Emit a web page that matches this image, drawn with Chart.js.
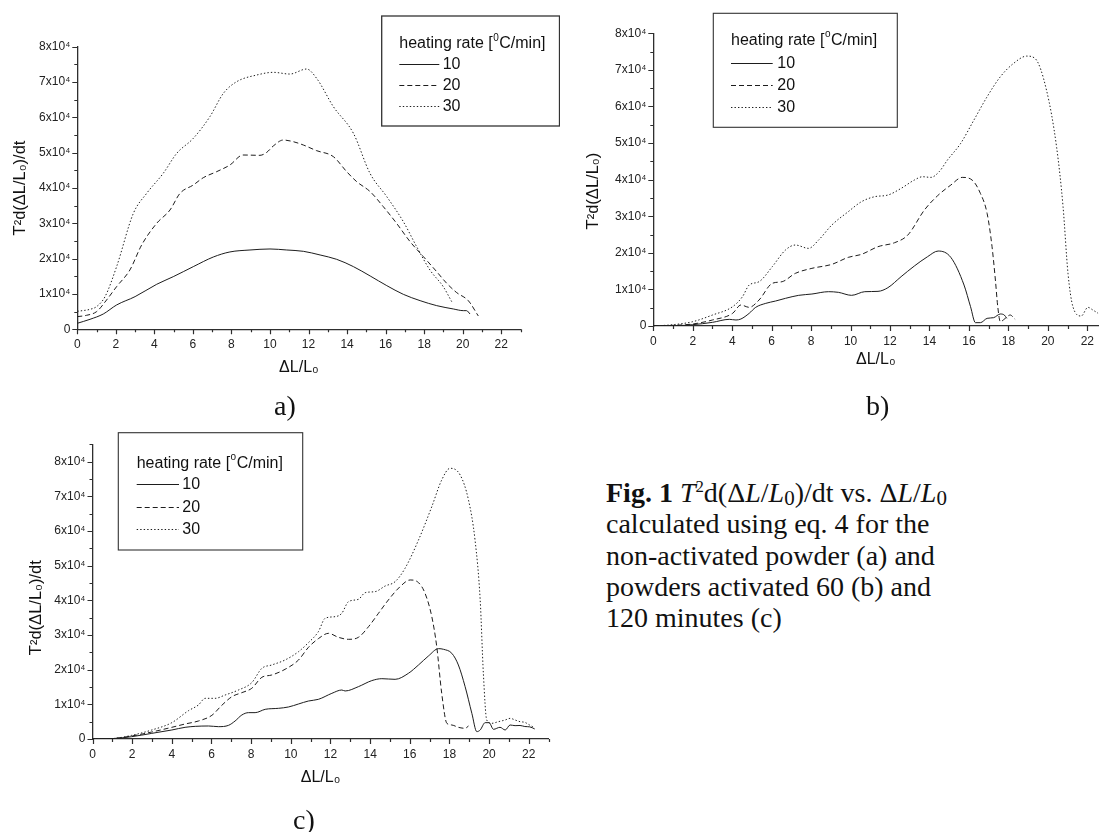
<!DOCTYPE html>
<html>
<head>
<meta charset="utf-8">
<script src="https://cdn.jsdelivr.net/npm/chart.js@4.4.1/dist/chart.umd.min.js"></script>
<style>
  html, body { margin: 0; padding: 0; background: #fff; width: 1102px; height: 832px; overflow: hidden; }
  canvas { position: absolute; }
  .serif { position: absolute; font-family: 'Liberation Serif', 'Times New Roman', serif; color: #111; font-size: 28px; line-height: 31.3px; white-space: nowrap; }
  .serif sup { font-size: 0.6em; vertical-align: 0.6em; line-height: 0; }
  .serif sub { font-size: 0.75em; vertical-align: -0.15em; line-height: 0; }
</style>
</head>
<body>
<canvas id="chartA" width="560" height="400" style="left:0;top:0"></canvas>
<canvas id="chartB" width="542" height="400" style="left:560px;top:0"></canvas>
<canvas id="chartC" width="560" height="432" style="left:0;top:400px"></canvas>

<div class="serif" style="left:274px;top:390px">a)</div>
<div class="serif" style="left:866px;top:390px">b)</div>
<div class="serif" style="left:293px;top:804px">c)</div>

<div class="serif" style="left:606px;top:477px">
  <b>Fig. 1</b> <i>T</i><sup>2</sup>d(&Delta;<i>L</i>/<i>L</i><sub>0</sub>)/dt vs. &Delta;<i>L</i>/<i>L</i><sub>0</sub><br>
  calculated using eq. 4 for the<br>
  non-activated powder (a) and<br>
  powders activated 60 (b) and<br>
  120 minutes (c)
</div>

<script>
// ---- axis ticks and legend entries ----
const xTickValues = [0, 2, 4, 6, 8, 10, 12, 14, 16, 18, 20, 22];
const yTickValues = [0, 10000, 20000, 30000, 40000, 50000, 60000, 70000, 80000];
const yTickLabels = ['0', '1x10\u2074', '2x10\u2074', '3x10\u2074', '4x10\u2074', '5x10\u2074', '6x10\u2074', '7x10\u2074', '8x10\u2074'];
const heatingRates = ['10', '20', '30'];

// ---- (a) non-activated powder ----
const aX10 = [0, 0.66, 1.35, 2.04, 3.0, 4.12, 4.98, 6.02, 7.06, 7.92, 8.96, 10.0, 10.87, 11.73, 12.6, 13.46, 14.33, 15.2, 16.06, 16.92, 17.79, 18.65, 19.52, 20.03, 20.2, 20.38];
const aY10 = [1700, 2830, 4340, 6890, 9250, 12740, 14900, 17740, 20470, 21900, 22450, 22740, 22450, 22080, 21040, 19810, 17740, 15090, 12360, 9900, 8110, 6700, 5750, 5280, 5280, 4340];
const aX20 = [0, 0.48, 1.0, 1.52, 2.04, 2.73, 3.34, 4.12, 4.81, 5.33, 6.02, 6.54, 7.23, 7.92, 8.6, 9.48, 9.83, 10.17, 10.69, 11.21, 11.73, 12.42, 13.29, 13.98, 14.5, 15.2, 15.88, 16.57, 17.27, 17.96, 18.65, 19.17, 19.69, 20.29, 20.81];
const aY20 = [3580, 3960, 5000, 8300, 12080, 16800, 23870, 30000, 33770, 38490, 40850, 42920, 44620, 46510, 49340, 49250, 50090, 51890, 53580, 53110, 52170, 50570, 48870, 44620, 41790, 38960, 34720, 30000, 24810, 20570, 16320, 13020, 10380, 8110, 3770];
const aX30 = [0, 0.66, 1.0, 1.44, 2.04, 2.91, 3.6, 4.46, 5.16, 6.02, 6.88, 7.58, 8.27, 9.31, 10.17, 11.03, 11.9, 12.42, 13.29, 14.33, 15.19, 16.06, 16.92, 17.61, 18.3, 18.99, 19.43];
const aY30 = [5090, 5660, 6420, 9250, 17740, 32830, 38490, 44150, 49810, 54060, 60190, 66790, 70090, 71980, 72740, 72260, 73680, 71040, 63020, 55470, 44150, 37550, 30470, 23400, 16790, 12080, 7830];

// ---- (b) activated 60 minutes ----
const bX10 = [0, 0.84, 2.0, 3.0, 3.85, 4.19, 4.44, 4.86, 5.19, 5.7, 6.2, 6.7, 7.37, 8.04, 8.88, 9.38, 10.05, 10.72, 11.39, 11.89, 12.56, 13.23, 13.9, 14.44, 15.08, 15.75, 16.08, 16.33, 16.58, 16.92, 17.25, 17.59, 17.79, 17.92];
const bY10 = [0, 0, 360, 1000, 1820, 1640, 1910, 3460, 5100, 6190, 6830, 7560, 8380, 8740, 9380, 9200, 8380, 9380, 9470, 10470, 13480, 16390, 18940, 20490, 18760, 11200, 5280, 910, 910, 2090, 2280, 3280, 3000, 2090];
const bX20 = [0, 1.0, 2.0, 3.0, 4.02, 4.44, 4.86, 5.36, 6.03, 6.53, 7.2, 8.04, 9.05, 9.88, 10.55, 11.39, 12.23, 12.9, 13.74, 14.41, 15.08, 15.66, 16.16, 16.58, 16.92, 17.17, 17.34, 17.46, 17.59, 17.84, 18.09, 18.34];
const bY20 = [0, 180, 550, 1640, 3460, 5740, 5100, 7100, 11660, 12110, 14390, 15760, 16850, 18760, 19580, 21680, 22770, 24860, 31690, 35610, 38520, 40620, 39890, 36250, 30780, 21680, 12570, 5280, 1180, 2090, 3000, 1820];
const bX30 = [0, 1.0, 2.0, 3.0, 4.02, 4.52, 4.86, 5.36, 6.03, 6.7, 7.2, 7.87, 8.38, 9.05, 9.88, 10.55, 11.22, 11.89, 12.56, 13.23, 13.65, 14.07, 14.49, 14.91, 15.58, 16.25, 16.92, 17.59, 18.26, 18.93, 19.35, 19.93, 20.44, 20.77, 21.02, 21.27, 21.69, 22.03, 22.28, 22.55];
const bY30 = [0, 360, 1180, 3000, 5280, 8010, 11200, 12110, 16210, 20770, 22130, 21220, 23500, 27600, 31240, 33970, 35340, 35790, 37610, 39890, 40800, 40620, 42170, 45360, 49910, 56280, 62660, 68120, 71770, 73770, 73130, 64480, 49000, 32600, 14390, 5280, 2730, 5100, 4370, 3460];

// ---- (c) activated 120 minutes ----
const cX10 = [0, 0.97, 1.98, 2.99, 4.0, 4.67, 5.18, 5.85, 6.35, 6.86, 7.19, 7.53, 7.87, 8.2, 8.71, 9.38, 9.88, 10.39, 10.89, 11.39, 12.07, 12.57, 12.74, 13.41, 14.08, 14.59, 15.26, 15.93, 16.44, 16.94, 17.45, 17.7, 18.12, 18.45, 18.79, 19.13, 19.38, 19.55, 19.8, 20.0, 20.22, 20.55, 20.81, 21.06, 21.31, 21.56, 21.8, 22.05, 22.3];
const cY10 = [0, 100, 670, 1630, 2600, 3370, 3650, 3750, 3560, 3940, 5190, 6920, 7600, 7600, 8560, 8850, 9230, 10100, 10960, 11440, 13170, 14130, 13850, 15100, 16830, 17400, 17210, 18940, 21350, 23940, 26060, 25870, 24710, 21350, 15100, 7400, 2120, 2600, 4710, 4710, 2790, 3370, 2600, 4040, 3850, 3900, 3600, 3500, 2900];
const cX20 = [0, 0.97, 1.98, 2.99, 4.0, 4.67, 5.34, 6.02, 6.52, 7.03, 7.53, 8.03, 8.54, 9.04, 9.71, 10.39, 10.89, 11.39, 11.9, 12.4, 12.91, 13.41, 13.92, 14.42, 14.92, 15.51, 16.02, 16.44, 16.77, 17.11, 17.36, 17.61, 17.87, 18.12, 18.45, 18.79, 18.96];
const cY20 = [0, 100, 870, 2020, 3370, 4330, 5190, 6830, 9710, 12210, 13370, 14620, 17790, 18460, 20100, 22790, 26440, 28940, 30480, 29330, 28750, 29330, 32400, 36250, 40100, 43940, 45870, 45100, 42020, 35290, 26630, 13170, 4520, 4040, 3370, 3080, 3750];
const cX30 = [0, 0.97, 1.98, 2.99, 4.0, 4.84, 5.34, 5.68, 6.18, 6.69, 7.36, 8.03, 8.54, 9.04, 9.71, 10.39, 10.89, 11.39, 11.73, 12.24, 12.57, 12.91, 13.41, 13.75, 14.25, 14.76, 15.26, 15.76, 16.44, 17.11, 17.61, 18.03, 18.54, 18.96, 19.29, 19.55, 19.71, 19.88, 20.13, 20.47, 20.81, 21.06, 21.31, 21.56, 21.8, 22.05, 22.3];
const cY30 = [0, 100, 1060, 2600, 4710, 8170, 9810, 11730, 11730, 12690, 14130, 16250, 20380, 21350, 22790, 25190, 27790, 30960, 34810, 35290, 36250, 39620, 40290, 42210, 42500, 44130, 45380, 49230, 57400, 67020, 74710, 78080, 76150, 68940, 57400, 40100, 18940, 5480, 4520, 5000, 5480, 5960, 5480, 5000, 4800, 4000, 3200];

// ---- drawing ----
const INK = '#1d1d1d';
const AXIS = '#2e2e2e';
const SANS = "'Liberation Sans', Arial, sans-serif";
const dashes = [[], [5, 3], [1.4, 2.1]];

// major/minor tick marks drawn from each scale's own pixel mapping
const tickMarks = {
  id: 'tickMarks',
  afterDraw(chart) {
    const { ctx, chartArea } = chart;
    const xs = chart.scales.x, ys = chart.scales.y;
    ctx.save();
    ctx.strokeStyle = AXIS;
    ctx.lineWidth = 1.2;
    ctx.beginPath();
    for (let v = 0; v <= xs.max + 1e-6; v += 1) {
      const px = Math.round(xs.getPixelForValue(v)) + 0.5;
      const len = (v % 2 === 0) ? 5 : 3;
      ctx.moveTo(px, chartArea.bottom);
      ctx.lineTo(px, chartArea.bottom + len);
    }
    for (let v = 0; v <= ys.max + 1e-6; v += 5000) {
      const py = Math.round(ys.getPixelForValue(v)) + 0.5;
      const len = (v % 10000 === 0) ? 5 : 3;
      ctx.moveTo(chartArea.left, py);
      ctx.lineTo(chartArea.left - len, py);
    }
    ctx.stroke();
    ctx.restore();
  }
};

// framed legend with the heating-rate heading
const boxLegend = {
  id: 'boxLegend',
  afterDraw(chart, args, o) {
    const ctx = chart.ctx;
    ctx.save();
    ctx.strokeStyle = '#333';
    ctx.lineWidth = o.frameWidth;
    ctx.strokeRect(o.box[0], o.box[1], o.box[2] - o.box[0], o.box[3] - o.box[1]);
    ctx.fillStyle = '#111';
    ctx.textBaseline = 'middle';
    ctx.textAlign = 'left';
    // heading: heating rate [°C/min] with a raised small degree mark
    ctx.font = '16px ' + SANS;
    let x = o.head[0];
    const part1 = 'heating rate [';
    ctx.fillText(part1, x, o.head[1]);
    x += ctx.measureText(part1).width + 0.5;
    ctx.font = '10px ' + SANS;
    ctx.fillText(o.degree, x, o.head[1] - 6);
    x += ctx.measureText(o.degree).width + 0.5;
    ctx.font = '16px ' + SANS;
    ctx.fillText('C/min]', x, o.head[1]);
    // one row per dataset: line sample with the dataset's dash, then its label
    chart.data.datasets.forEach((ds, i) => {
      const y = Math.round(o.rows[i]) + 0.5;
      ctx.strokeStyle = INK;
      ctx.lineWidth = 1;
      ctx.setLineDash(ds.borderDash || []);
      ctx.beginPath();
      ctx.moveTo(o.sample[0], y);
      ctx.lineTo(o.sample[1], y);
      ctx.stroke();
      ctx.setLineDash([]);
      ctx.font = '16px ' + SANS;
      ctx.fillText(ds.label, o.labelX, o.rows[i] + 0.5);
    });
    ctx.restore();
  }
};

function buildChart(canvasId, p) {
  const datasets = p.series.map((s, i) => ({
    label: heatingRates[i],
    data: s[0].map((x, j) => ({ x: x, y: s[1][j] })),
    borderColor: INK,
    borderWidth: 1,
    borderDash: dashes[i],
    pointRadius: 0,
    fill: false,
    cubicInterpolationMode: 'monotone'
  }));
  return new Chart(document.getElementById(canvasId), {
    type: 'line',
    data: { datasets: datasets },
    options: {
      responsive: false,
      animation: false,
      devicePixelRatio: 1,
      layout: { padding: p.pad },
      plugins: {
        legend: { display: false },
        tooltip: { enabled: false },
        boxLegend: p.legend
      },
      scales: {
        x: {
          type: 'linear',
          min: 0,
          max: p.xMax,
          afterBuildTicks: (s) => { s.ticks = xTickValues.map(v => ({ value: v })); },
          afterFit: (s) => { s.height = p.xH; },
          ticks: { font: { family: SANS, size: 12 }, color: '#222', padding: 8, maxRotation: 0, autoSkip: false, callback: (v) => String(v) },
          grid: { display: false, drawTicks: false },
          border: { display: true, color: AXIS, width: 1.3 },
          title: { display: true, text: '\u0394L/L\u2080', font: { family: SANS, size: 16 }, color: '#111', padding: 0 }
        },
        y: {
          type: 'linear',
          min: 0,
          max: p.yMax,
          afterBuildTicks: (s) => { s.ticks = yTickValues.map(v => ({ value: v })); },
          afterFit: (s) => { s.width = p.yW; },
          ticks: { font: { family: SANS, size: 12 }, color: '#222', padding: 7, autoSkip: false, callback: (v) => yTickLabels[yTickValues.indexOf(v)] },
          grid: { display: false, drawTicks: false },
          border: { display: true, color: AXIS, width: 1.3 },
          title: { display: true, text: p.yTitle, font: { family: SANS, size: 16.5 }, color: '#111', padding: 0 }
        }
      }
    },
    plugins: [tickMarks, boxLegend]
  });
}

buildChart('chartA', {
  series: [[aX10, aY10], [aX20, aY20], [aX30, aY30]],
  xMax: 23, yMax: 80000,
  pad: { left: 10.6, right: 39.5, top: 46.7, bottom: 22.7 },
  yW: 66.7, xH: 48,
  yTitle: 'T\u00b2d(\u0394L/L\u2080)/dt',
  legend: { box: [381.7, 16, 559.5, 126], frameWidth: 1.3, head: [399.3, 44], degree: '0', rows: [64, 85, 106], sample: [399.3, 439.3], labelX: 442.7 }
});

buildChart('chartB', {
  series: [[bX10, bY10], [bX20, bY20], [bX30, bY30]],
  xMax: 22.55, yMax: 80000,
  pad: { left: 24, right: 0, top: 33.3, bottom: 31 },
  yW: 69.3, xH: 43,
  yTitle: 'T\u00b2d(\u0394L/L\u2080)\u00a0\u00a0\u00a0\u00a0\u00a0',
  legend: { box: [153.3, 13.3, 337.3, 127.3], frameWidth: 1.1, head: [171, 40.7], degree: 'o', rows: [62.7, 85, 106.7], sample: [171, 212.7], labelX: 217.3 }
});

buildChart('chartC', {
  series: [[cX10, cY10], [cX20, cY20], [cX30, cY30]],
  xMax: 23, yMax: 85000,
  pad: { left: 27, right: 11.4, top: 44.3, bottom: 45 },
  yW: 65.5, xH: 48,
  yTitle: 'T\u00b2d(\u0394L/L\u2080)/dt\u00a0\u00a0\u00a0\u00a0\u00a0\u00a0\u00a0',
  legend: { box: [118.3, 32.7, 302.7, 150], frameWidth: 1.1, head: [136.7, 63.3], degree: 'o', rows: [84.3, 106.7, 128.7], sample: [136.7, 179], labelX: 182.3 }
});
</script>
</body>
</html>
